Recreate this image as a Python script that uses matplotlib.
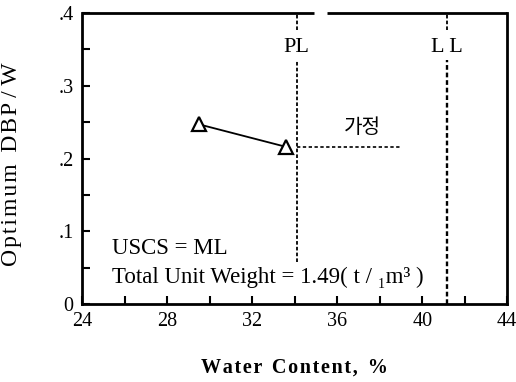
import matplotlib.pyplot as plt
from matplotlib.ticker import MultipleLocator

plt.rcParams['font.family'] = ['Liberation Serif', 'DejaVu Serif', 'Noto Sans CJK KR']

# measured points
water = [29.5, 33.6]
dbp_w = [0.247, 0.216]

# Atterberg limits
pl = 34.1
ll = 41.15
assumed_end = 38.95

x_ticks = [24, 28, 32, 36, 40, 44]
y_ticks = [0, 0.1, 0.2, 0.3, 0.4]
y_labels = ['0', '.1', '.2', '.3', '.4']


def spaced(s):
    # slightly loose letter spacing
    return '\u200a'.join(s)


fig = plt.figure(figsize=(5.16, 3.82), dpi=100)
ax = fig.add_axes([0.159, 0.204, 0.824, 0.762])

ax.plot(water, dbp_w, color='black', lw=1.3, marker='^', ms=10,
        mfc='white', mec='black', mew=1.6, zorder=5)

# limit lines, broken around their labels
dash = (0, (2, 1.2))
ax.plot([pl, pl], [0.058, 0.336], color='black', lw=1.3, ls=dash)
ax.plot([pl, pl], [0.377, 0.4], color='black', lw=1.3, ls=dash)
ax.plot([ll, ll], [0, 0.336], color='black', lw=1.7, ls=dash)
ax.plot([ll, ll], [0.377, 0.4], color='black', lw=1.3, ls=dash)
ax.plot([pl, assumed_end], [dbp_w[-1], dbp_w[-1]], color='black',
        lw=1.2, ls=(0, (2, 1.5)))

ax.text(pl, 0.353, 'PL', ha='center', va='center', fontsize=16)
ax.text(ll, 0.353, 'L L', ha='center', va='center', fontsize=16)
ax.text(37.2, 0.242, '가정', ha='center', va='center', fontsize=14.5,
        family=['Noto Sans CJK KR'])
ax.text(25.4, 0.077, 'USCS = ML', fontsize=16.5, va='center')
ax.text(25.4, 0.037, 'Total Unit Weight = 1.49( t / \u2081m\u00b3 )',
        fontsize=16.5, va='center')

ax.set_xlim(24, 44)
ax.set_ylim(0, 0.4)
ax.set_xticks(x_ticks)
ax.set_yticks(y_ticks)
ax.set_yticklabels(y_labels)
ax.xaxis.set_minor_locator(MultipleLocator(2))
ax.yaxis.set_minor_locator(MultipleLocator(0.05))
ax.tick_params(which='both', direction='in', width=1.5, length=6, labelsize=14.5)
ax.tick_params(axis='x', pad=6)
ax.tick_params(axis='y', pad=6)
for s in ax.spines.values():
    s.set_linewidth(2)

# top frame has a small break next to the PL line
ax.spines['top'].set_visible(False)
ax.plot([24, 34.9], [0.4, 0.4], color='black', lw=2, clip_on=False,
        solid_capstyle='butt')
ax.plot([35.5, 44], [0.4, 0.4], color='black', lw=2, clip_on=False,
        solid_capstyle='butt')

ax.set_xlabel(spaced('Water') + '  ' + spaced('Content,') + '  %',
              fontsize=14.5, fontweight='bold')
ax.xaxis.set_label_coords(0.50, -0.183)
ax.set_ylabel(spaced('Optimum') + '  ' + spaced('DBP') + ' / W', fontsize=17)
ax.yaxis.set_label_coords(-0.141, 0.481)

fig.savefig('out.png', dpi=100)
